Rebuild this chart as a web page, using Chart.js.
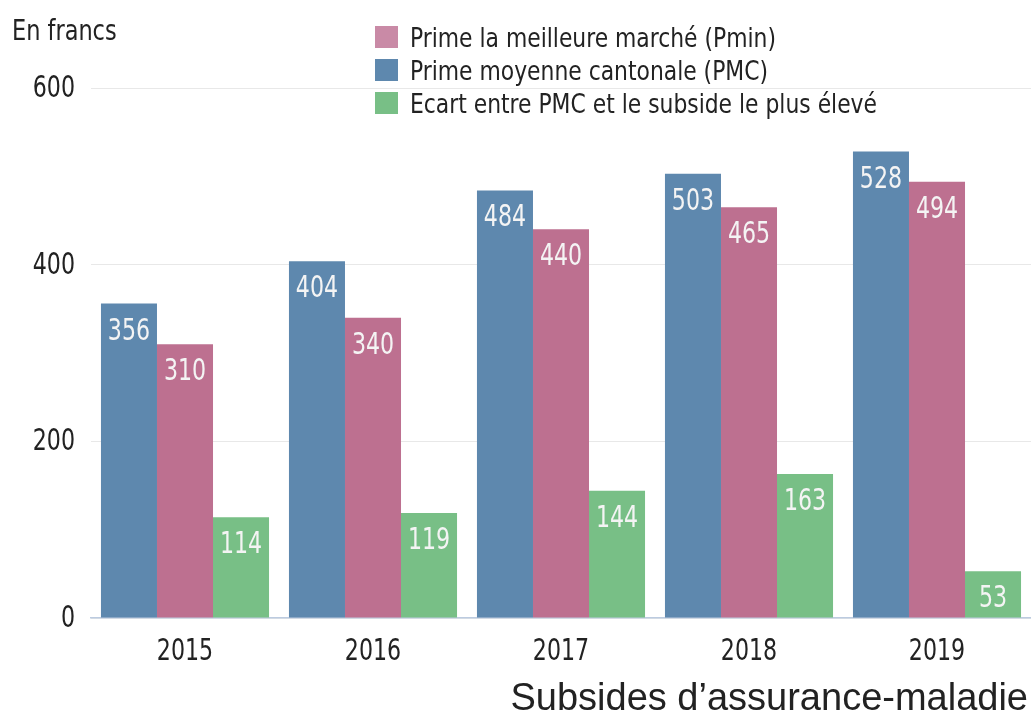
<!DOCTYPE html>
<html>
<head>
<meta charset="utf-8">
<title>Subsides d'assurance-maladie</title>
<script src="https://cdn.jsdelivr.net/npm/chart.js@4/dist/chart.umd.min.js"></script>
<style>
  html, body { margin: 0; padding: 0; background: #fff; }
</style>
</head>
<body>
<canvas id="chart" width="1031" height="714"></canvas>
<script>
// values
var years = ['2015', '2016', '2017', '2018', '2019'];
var pmc = [356, 404, 484, 503, 528];
var pmin = [310, 340, 440, 465, 494];
var ecart = [114, 119, 144, 163, 53];
var yTicks = [0, 200, 400, 600];

var NARROW = '"Liberation Sans Narrow", "DejaVu Sans Condensed", sans-serif';
var TEXT = '#222222';

var blue = '#5e88ae';
var pink = '#bd7090';
var green = '#78bf86';

// legend order differs from bar order
var legendItems = [
    { label: 'Prime la meilleure marché (Pmin)', color: '#c98aa6' },
    { label: 'Prime moyenne cantonale (PMC)', color: blue },
    { label: 'Ecart entre PMC et le subside le plus élevé', color: green }
];

/* the original font is a condensed one, so squeeze the text a bit */
function squeezedText(ctx, text, x, y, sx) {
    ctx.save();
    ctx.translate(x, y);
    ctx.scale(sx, 1);
    ctx.fillText(text, 0, 0);
    ctx.restore();
}

/* white numbers inside the top of each bar */
var barValues = {
    id: 'barValues',
    afterDatasetsDraw: function(chart) {
        var ctx = chart.ctx;
        ctx.save();
        ctx.font = '30px ' + NARROW;
        ctx.fillStyle = '#f4f4f4';
        ctx.textAlign = 'center';
        ctx.textBaseline = 'alphabetic';
        chart.data.datasets.forEach(function(ds, i) {
            chart.getDatasetMeta(i).data.forEach(function(bar, j) {
                squeezedText(ctx, String(ds.data[j]), bar.x, bar.y + 36, 0.82);
            });
        });
        ctx.restore();
    }
};

/* ticks, unit, legend and caption */
var decor = {
    id: 'decor',
    afterDraw: function(chart) {
        var ctx = chart.ctx;
        var xs = chart.scales.x, ys = chart.scales.y;
        ctx.save();
        ctx.fillStyle = TEXT;
        ctx.textBaseline = 'alphabetic';

        ctx.font = '30px ' + NARROW;
        ctx.textAlign = 'center';
        years.forEach(function(yr, i) {
            squeezedText(ctx, yr, xs.getPixelForValue(i), 660, 0.82);
        });
        ctx.textAlign = 'right';
        yTicks.forEach(function(v) {
            squeezedText(ctx, String(v), 75, ys.getPixelForValue(v) + 9, 0.82);
        });

        ctx.textAlign = 'left';
        ctx.font = '29px ' + NARROW;
        squeezedText(ctx, 'En francs', 12, 40, 0.86);

        ctx.font = '27px ' + NARROW;
        legendItems.forEach(function(item, i) {
            var y = 26 + i * 33;
            ctx.fillStyle = item.color;
            ctx.fillRect(375, y, 23, 22);
            ctx.fillStyle = TEXT;
            squeezedText(ctx, item.label, 410, y + 21, 0.9);
        });

        ctx.textAlign = 'right';
        ctx.font = '38px "Liberation Sans", Arial, sans-serif';
        ctx.fillText('Subsides d\u2019assurance-maladie', 1028, 710);
        ctx.restore();
    }
};

var ctx = document.getElementById('chart');
var myChart = new Chart(ctx, {
    type: 'bar',
    data: {
        labels: years,
        datasets: [
            { label: 'Prime moyenne cantonale (PMC)', data: pmc, backgroundColor: blue },
            { label: 'Prime la meilleure marché (Pmin)', data: pmin, backgroundColor: pink },
            { label: 'Ecart entre PMC et le subside le plus élevé', data: ecart, backgroundColor: green }
        ]
    },
    options: {
        responsive: false,
        animation: false,
        barPercentage: 1,
        categoryPercentage: 0.894,
        layout: {
            padding: { top: 88, right: 0, bottom: 0, left: 0 }
        },
        plugins: {
            legend: { display: false },
            tooltip: { enabled: false }
        },
        scales: {
            x: {
                grid: { display: false, drawTicks: false },
                border: { color: '#bccbe0', width: 1.5 },
                ticks: { display: false },
                afterFit: function(scale) { scale.height = 96; }
            },
            y: {
                min: 0,
                max: 600,
                afterBuildTicks: function(scale) {
                    scale.ticks = yTicks.map(function(v) { return { value: v }; });
                },
                grid: { color: '#e8e8e8', drawTicks: false },
                border: { display: false },
                ticks: { display: false },
                afterFit: function(scale) { scale.width = 91; }
            }
        }
    },
    plugins: [barValues, decor]
});
</script>
</body>
</html>
